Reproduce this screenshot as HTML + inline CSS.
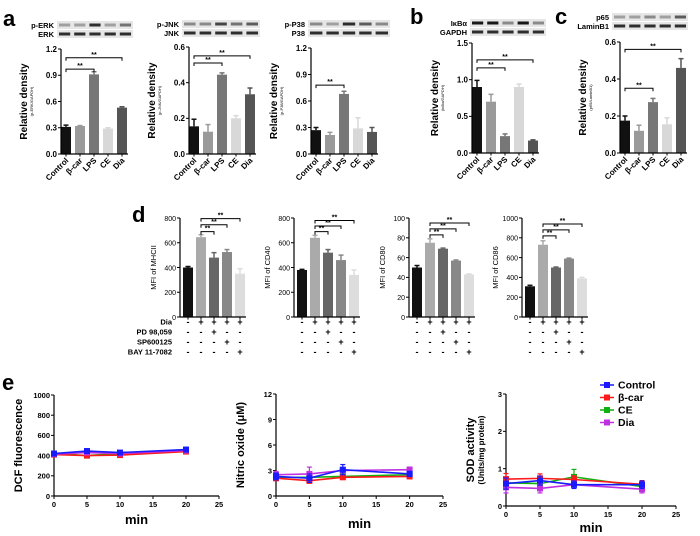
<!DOCTYPE html>
<html><head><meta charset="utf-8">
<style>
html,body{margin:0;padding:0;background:#fff;}
svg{display:block;font-family:"Liberation Sans",Arial,sans-serif;}
</style></head>
<body>
<svg id="fig" width="700" height="536" viewBox="0 0 700 536" xmlns="http://www.w3.org/2000/svg">
<g id="root"></g>
</svg>
<script>
// ---------- data ----------
const barCats = ["Control","β-car","LPS","CE","Dia"];
const barColors = ["#111","#9a9a9a","#777","#d8d8d8","#555"];
const erkVals = [0.31,0.32,0.91,0.29,0.53];
const erkErr = [0.02,0.005,0.03,0.01,0.01];
const jnkVals = [0.155,0.125,0.445,0.20,0.335];
const jnkErr = [0.04,0.04,0.01,0.015,0.035];
const p38Vals = [0.27,0.215,0.68,0.29,0.25];
const p38Err = [0.03,0.03,0.03,0.12,0.05];
const ikbVals = [0.90,0.70,0.23,0.90,0.17];
const ikbErr = [0.09,0.10,0.03,0.04,0.01];
const p65Vals = [0.175,0.12,0.275,0.155,0.46];
const p65Err = [0.025,0.03,0.02,0.035,0.05];
const ticks12 = [0,0.3,0.6,0.9,1.2];
const ticks06 = [0,0.2,0.4,0.6];
const ticks15 = [0,0.5,1.0,1.5];
const mhcVals = [400,645,480,525,350];
const mhcErr = [8,20,40,20,40];
const cd40Vals = [380,640,520,460,340];
const cd40Err = [5,20,25,40,40];
const cd80Vals = [50,75,69,57,43];
const cd80Err = [2,4,0.6,0.6,0.6];
const cd86Vals = [310,730,500,590,390];
const cd86Err = [10,40,5,5,10];
const dColors = ["#111","#aaa","#666","#888","#ddd"];
const tableRows = ["Dia","PD 98,059","SP600125","BAY 11-7082"];
const tableSigns = [["-","+","+","+","+"],["-","-","+","-","-"],["-","-","-","+","-"],["-","-","-","-","+"]];
const timeX = [0,5,10,20];
const xTicksE = [0,5,10,15,20,25];
const seriesNames = ["Control","β-car","CE","Dia"];
const seriesColors = ["#1a1aff","#ff1a1a","#10b010","#c030e0"];
const dcfCtrl=[420,445,430,460], dcfBcar=[410,400,405,440], dcfCE=[420,400,420,445], dcfDia=[415,430,420,450];
const dcfErr=[20,22,20,18];
const noCtrl=[2.3,2.1,3.1,2.6], noBcar=[2.1,1.8,2.2,2.3], noCE=[2.2,2.2,2.3,2.5], noDia=[2.5,2.6,3.0,3.1];
const noErr=[0.4,0.5,0.6,0.3], noDiaErr=[0.4,0.8,0.2,0.3];
const sodCtrl=[0.6,0.68,0.57,0.57], sodBcar=[0.72,0.74,0.71,0.58], sodCE=[0.62,0.6,0.78,0.52], sodDia=[0.5,0.47,0.57,0.45];
const sodErr=[0.15,0.12,0.1,0.1], sodCEErr=[0.1,0.1,0.2,0.05];

const NS="http://www.w3.org/2000/svg";
const root=document.getElementById('root');
function el(tag,attrs,parent,txt){const e=document.createElementNS(NS,tag);for(const k in attrs)e.setAttribute(k,attrs[k]);if(txt!==undefined)e.textContent=txt;(parent||root).appendChild(e);return e;}

function label(x,y,t,size){const e=el('text',{x:x,y:y,'font-size':size,'font-weight':'bold'},root,t);

}

function blot(x,y,w,h,lab,bands,name){
  const g=el('g',{});
  
  
  el('rect',{x:x,y:y,width:w,height:h,fill:'#e6e6e6'},g);
  const bw=w/5;
  for(let i=0;i<5;i++){el('rect',{x:x+i*bw+2,y:y+h/2-1.5,width:bw-4,height:3,fill:'#000','fill-opacity':bands[i]},g);}
  el('text',{x:x-3,y:y+h-1,'font-size':7.5,'font-weight':'bold','text-anchor':'end'},g,lab);
}

function barChart(o){
  const g=el('g',{});
  
  
  const ax=o.ax,y0=o.y0,y1=o.y1,max=o.ticks[o.ticks.length-1];
  const Y=v=>y0-(v/max)*(y0-y1);
  const X=i=>ax+o.first+o.sp*i;
  o.vals.forEach((v,i)=>{
    const c=X(i);
    const b=el('rect',{x:c-o.bw/2,y:Y(v),width:o.bw,height:y0-Y(v),fill:o.colors[i]},g);
    
    
    const t=Y(v+o.err[i]);
    el('line',{x1:c,x2:c,y1:Y(v),y2:t,stroke:o.colors[i],'stroke-width':1.5},g);
    el('line',{x1:c-2.5,x2:c+2.5,y1:t,y2:t,stroke:o.colors[i],'stroke-width':1.5},g);
  });
  el('line',{x1:ax,x2:ax,y1:y1,y2:y0,stroke:'#000','stroke-width':1.2},g);
  el('line',{x1:ax,x2:X(o.vals.length-1)+o.bw/2+1,y1:y0,y2:y0,stroke:'#000','stroke-width':1.2},g);
  o.ticks.forEach((t,i)=>{
    el('line',{x1:ax-3,x2:ax,y1:Y(t),y2:Y(t),stroke:'#000','stroke-width':1},g);
    el('text',{x:ax-4,y:Y(t)+2.8,'font-size':o.tfs,'font-weight':o.tw,'text-anchor':'end'},g,o.tickLabels[i]);
  });
  o.vals.forEach((v,i)=>el('line',{x1:X(i),x2:X(i),y1:y0,y2:y0+2.5,stroke:'#000'},g));
  if(o.cats){o.cats.forEach((c,i)=>{el('text',{x:X(i)+3,y:y0+7,'font-size':8,'font-weight':'bold','text-anchor':'end',transform:`rotate(-45 ${X(i)+3} ${y0+7})`},g,c);});}
  const my=(y0+y1)/2;
  el('text',{x:ax-o.ylOff,y:my,'font-size':o.ylfs,'font-weight':o.ylw,'text-anchor':'middle',transform:`rotate(-90 ${ax-o.ylOff} ${my})`},g,o.ylabel);
  if(o.sub) el('text',{x:ax-o.ylOff+6,y:my,'font-size':4,'text-anchor':'middle',transform:`rotate(-90 ${ax-o.ylOff+6} ${my})`},g,o.sub);
  o.sig.forEach(s=>{
    const yy=Y(s[2]),a=X(s[0]),b=X(s[1]);
    el('path',{d:`M${a} ${yy+3}V${yy}H${b}V${yy+3}`,fill:'none',stroke:'#000','stroke-width':1},g);
    el('text',{x:(a+b)/2,y:yy-1,'font-size':7,'font-weight':'bold','text-anchor':'middle'},g,'**');
  });
  return X;
}
const fmt1=t=>t.toFixed(1), fmtI=t=>String(t);
label(3,26,'a',22); label(410,24,'b',22); label(555,24,'c',22); label(132,222,'d',22); label(2,390,'e',22);
blot(57,21,76,8,'p-ERK',[0.3,0.3,0.8,0.3,0.5],'blot-p-erk');
blot(57,30,76,8,'ERK',[0.8,0.8,0.8,0.8,0.8],'blot-erk');
blot(182,20,78,8,'p-JNK',[0.4,0.4,0.7,0.5,0.6],'blot-p-jnk');
blot(182,29,78,8,'JNK',[0.8,0.8,0.8,0.8,0.8],'blot-jnk');
blot(308,20,82,8,'p-P38',[0.4,0.3,0.8,0.6,0.4],'blot-p-p38');
blot(308,29,82,8,'P38',[0.8,0.8,0.8,0.8,0.8],'blot-p38');
blot(470,19,76,8,'IκBα',[0.9,0.9,0.4,0.9,0.4],'blot-ikba');
blot(470,28,76,8,'GAPDH',[0.8,0.8,0.8,0.8,0.8],'blot-gapdh');
blot(612,13,76,8,'p65',[0.3,0.3,0.4,0.3,0.6],'blot-p65');
blot(612,22,76,8,'LaminB1',[0.8,0.8,0.8,0.8,0.8],'blot-laminb1');
const common={first:5,sp:14,bw:10,colors:barColors,cats:barCats,tfs:8,tw:'bold',ylfs:10,ylw:'bold',ylOff:34,ylabel:'Relative density'};
barChart(Object.assign({},common,{name:'chart-erk',ax:61,y0:154,y1:49,vals:erkVals,err:erkErr,ticks:ticks12,tickLabels:ticks12.map(fmt1),sub:'(p-ERK/GAPDH)',sig:[[0,2,0.97],[0,4,1.1]]}));
barChart(Object.assign({},common,{name:'chart-jnk',ax:189,y0:154,y1:47,vals:jnkVals,err:jnkErr,ticks:ticks06,tickLabels:ticks06.map(fmt1),sub:'(p-JNK/GAPDH)',sig:[[0,2,0.51],[0,4,0.55]]}));
barChart(Object.assign({},common,{name:'chart-p38',ax:311,y0:154,y1:48,vals:p38Vals,err:p38Err,ticks:ticks12,tickLabels:ticks12.map(fmt1),sub:'(p-P38/GAPDH)',sig:[[0,2,0.78]]}));
barChart(Object.assign({},common,{name:'chart-ikba',ax:472,y0:153,y1:43,vals:ikbVals,err:ikbErr,ticks:ticks15,tickLabels:ticks15.map(fmt1),sub:'(IκBα/GAPDH)',sig:[[0,2,1.16],[0,4,1.27]]}));
barChart(Object.assign({},common,{name:'chart-p65',ax:620,y0:153,y1:42,vals:p65Vals,err:p65Err,ticks:ticks06,tickLabels:ticks06.map(fmt1),sub:'(p65/LaminB1)',sig:[[0,2,0.35],[0,4,0.56]]}));
const dcommon={first:8,sp:13,bw:10,colors:dColors,tfs:7,tw:'normal',ylfs:7.5,ylw:'normal',ylOff:24,y0:317,y1:218};
const t800=[0,200,400,600,800],t100=[0,20,40,60,80,100],t1000=[0,200,400,600,800,1000];
const dCharts=[
 {name:'chart-mhcii',ax:180,vals:mhcVals,err:mhcErr,ticks:t800,ylabel:'MFI of MHCII',sig:[[1,2,690],[1,3,745],[1,4,795]]},
 {name:'chart-cd40',ax:294,vals:cd40Vals,err:cd40Err,ticks:t800,ylabel:'MFI of CD40',sig:[[1,2,690],[1,3,735],[1,4,780]]},
 {name:'chart-cd80',ax:409,vals:cd80Vals,err:cd80Err,ticks:t100,ylabel:'MFI of CD80',sig:[[1,2,83],[1,3,89],[1,4,95]]},
 {name:'chart-cd86',ax:522,vals:cd86Vals,err:cd86Err,ticks:t1000,ylabel:'MFI of CD86',sig:[[1,2,820],[1,3,880],[1,4,940]]}
];
const tableY=[325,335,345,355];
dCharts.forEach((c,ci)=>{
  const X=barChart(Object.assign({},dcommon,c,{tickLabels:c.ticks.map(fmtI)}));
  tableSigns.forEach((row,ri)=>row.forEach((s,i)=>{
    const t=el('text',{x:X(i),y:tableY[ri],'font-size':9,'font-weight':'bold','text-anchor':'middle'},root,s);
    
    
  }));
});
tableRows.forEach((r,ri)=>{
  const t=el('text',{x:172,y:tableY[ri]-0.5,'font-size':7.5,'font-weight':'bold','text-anchor':'end'},root,r);
  
  
});
function lineChart(o){
  const g=el('g',{});
  
  
  const max=o.ticks[o.ticks.length-1];
  const X=v=>o.x0+(v/25)*(o.x1-o.x0);
  const Y=v=>o.y0-(v/max)*(o.y0-o.y1);
  el('line',{x1:o.x0,x2:o.x0,y1:o.y1,y2:o.y0,stroke:'#000','stroke-width':1.2},g);
  el('line',{x1:o.x0,x2:o.x1,y1:o.y0,y2:o.y0,stroke:'#000','stroke-width':1.2},g);
  o.ticks.forEach(t=>{el('line',{x1:o.x0-3,x2:o.x0,y1:Y(t),y2:Y(t),stroke:'#000'},g);
    el('text',{x:o.x0-4,y:Y(t)+2.8,'font-size':7.5,'font-weight':'bold','text-anchor':'end'},g,String(t));});
  xTicksE.forEach(t=>{el('line',{x1:X(t),x2:X(t),y1:o.y0,y2:o.y0+3,stroke:'#000'},g);
    el('text',{x:X(t),y:o.y0+11,'font-size':7.5,'font-weight':'bold','text-anchor':'middle'},g,String(t));});
  el('text',{x:(o.x0+o.x1)/2,y:o.y0+o.minOff,'font-size':13,'font-weight':'bold','text-anchor':'middle'},g,'min');
  const my=(o.y0+o.y1)/2;
  el('text',{x:o.x0-32,y:my,'font-size':11,'font-weight':'bold','text-anchor':'middle',transform:`rotate(-90 ${o.x0-32} ${my})`},g,o.ylabel);
  if(o.sub) el('text',{x:o.x0-22,y:my,'font-size':8,'font-weight':'bold','text-anchor':'middle',transform:`rotate(-90 ${o.x0-22} ${my})`},g,o.sub);
  const order=[2,1,3,0];
  order.forEach(si=>{
    const vals=o.series[si],err=o.errs[si],col=seriesColors[si];
    const s=el('g',{},g);
    
    
    el('polyline',{points:vals.map((v,i)=>X(timeX[i])+','+Y(v)).join(' '),fill:'none',stroke:col,'stroke-width':1.6},s);
    vals.forEach((v,i)=>{const x=X(timeX[i]);
      el('line',{x1:x,x2:x,y1:Y(v-err[i]),y2:Y(v+err[i]),stroke:col,'stroke-width':1.2},s);
      el('line',{x1:x-2.5,x2:x+2.5,y1:Y(v+err[i]),y2:Y(v+err[i]),stroke:col,'stroke-width':1.2},s);
      el('line',{x1:x-2.5,x2:x+2.5,y1:Y(v-err[i]),y2:Y(v-err[i]),stroke:col,'stroke-width':1.2},s);
      el('rect',{x:x-3,y:Y(v)-3,width:6,height:6,fill:col},s);});
  });
}
lineChart({name:'chart-dcf',x0:54,x1:219,y0:496,y1:395,minOff:28,ticks:[0,200,400,600,800,1000],ylabel:'DCF fluorescence',series:[dcfCtrl,dcfBcar,dcfCE,dcfDia],errs:[dcfErr,dcfErr,dcfErr,dcfErr]});
lineChart({name:'chart-nitric-oxide',x0:276,x1:443,y0:496,y1:394,minOff:32,ticks:[0,3,6,9,12],ylabel:'Nitric oxide (μM)',series:[noCtrl,noBcar,noCE,noDia],errs:[noErr,[0.3,0.3,0.2,0.2],[0.3,0.3,0.2,0.2],noDiaErr]});
lineChart({name:'chart-sod',x0:506,x1:676,y0:506,y1:394,minOff:26,ticks:[0,1,2,3],ylabel:'SOD activity',sub:'(Units/mg protein)',series:[sodCtrl,sodBcar,sodCE,sodDia],errs:[sodErr,sodErr,sodCEErr,sodErr]});
const leg=el('g',{});


const legY=[385,397.5,410,422.5];
seriesNames.forEach((n,i)=>{
  const e=el('g',{},leg);
  
  
  el('line',{x1:600,x2:614,y1:legY[i],y2:legY[i],stroke:seriesColors[i],'stroke-width':1.5},e);
  el('rect',{x:604,y:legY[i]-3,width:6,height:6,fill:seriesColors[i]},e);
  el('text',{x:618,y:legY[i]+3.5,'font-size':10.5,'font-weight':'bold'},e,n);
});
</script>
</body></html>
